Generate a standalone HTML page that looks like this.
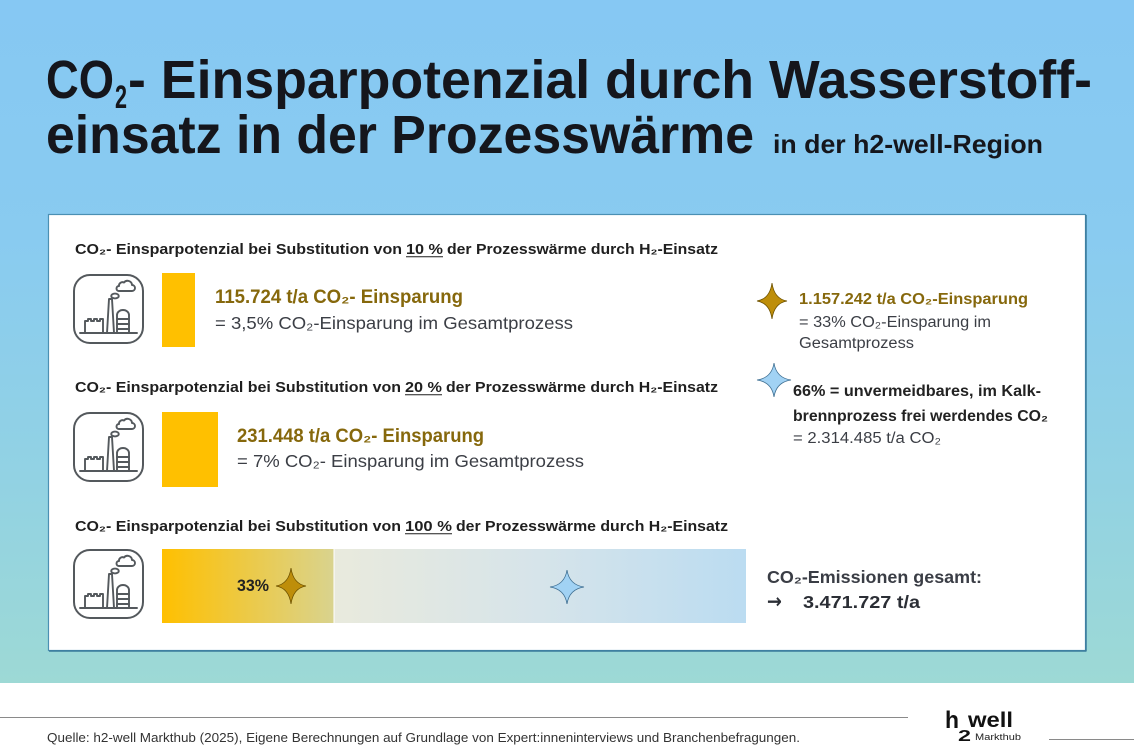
<!DOCTYPE html>
<html>
<head>
<meta charset="utf-8">
<style>
html,body{margin:0;padding:0;width:1134px;height:756px;overflow:hidden;background:#ffffff;}
svg{display:block;}
</style>
</head>
<body>
<svg width="1134" height="756" viewBox="0 0 1134 756" xmlns="http://www.w3.org/2000/svg" font-family="'Liberation Sans', Arial, 'DejaVu Sans', sans-serif">
  <defs>
    <linearGradient id="bg" x1="0" y1="0" x2="0" y2="1">
      <stop offset="0" stop-color="#86C8F3"/>
      <stop offset="0.35" stop-color="#89CBF0"/>
      <stop offset="0.7" stop-color="#92D2E3"/>
      <stop offset="1" stop-color="#9DD9D5"/>
    </linearGradient>
    <linearGradient id="gold" x1="0" y1="0" x2="1" y2="0">
      <stop offset="0" stop-color="#FFC000"/>
      <stop offset="1" stop-color="#D9D38E"/>
    </linearGradient>
    <linearGradient id="blue" x1="0" y1="0" x2="1" y2="0">
      <stop offset="0" stop-color="#E9EADD"/>
      <stop offset="0.5" stop-color="#D6E4EA"/>
      <stop offset="1" stop-color="#BBDCF1"/>
    </linearGradient>
    <g id="icon" fill="none" stroke="#54595d" stroke-width="1.9" stroke-linejoin="round" stroke-linecap="round">
      <rect x="1" y="1" width="69" height="68" rx="16" ry="16" stroke-width="2"/>
      <path d="M7,59 H64"/>
      <path d="M12,59 V47 h3 v-2 h3 v2 h3 v-2 h3 v2 h3 v-2 h3 v2 V59"/>
      <path d="M34,59 L36,25 H39 L41,59"/>
      <ellipse cx="42" cy="22" rx="3.8" ry="2.4"/>
      <path d="M46,17 H59 A3,3 0 0 0 59,11 A4.5,4.5 0 0 0 51,8.5 A3.5,3.5 0 0 0 46,12 A2.5,2.5 0 0 0 46,17 Z"/>
      <path d="M44,59 V41 A6,5 0 0 1 56,41 V59"/>
      <path d="M44,45 H56 M44,50 H56 M44,55 H56"/>
    </g>
    <path id="gstar" d="M0,-18 Q2.2,-2.2 15,0 Q2.2,2.2 0,18 Q-2.2,2.2 -15,0 Q-2.2,-2.2 0,-18Z" fill="#BE8E0A" stroke="#6e5200" stroke-width="0.8"/>
    <path id="bstar" d="M0,-17 Q2.2,-2.2 17,0 Q2.2,2.2 0,17 Q-2.2,2.2 -17,0 Q-2.2,-2.2 0,-17Z" fill="#A1D2F4" stroke="#3f6f92" stroke-width="0.8"/>
  </defs>

  <!-- background -->
  <rect x="0" y="0" width="1134" height="683" fill="url(#bg)"/>
  <rect x="0" y="683" width="1134" height="73" fill="#ffffff"/>

  <!-- title -->
  <g font-weight="bold" fill="#15161c">
    <text x="46" y="98" font-size="54" textLength="68" lengthAdjust="spacingAndGlyphs">CO</text>
    <text x="115" y="108" font-size="32" textLength="12" lengthAdjust="spacingAndGlyphs">2</text>
    <text x="128" y="98" font-size="54" textLength="964" lengthAdjust="spacingAndGlyphs">- Einsparpotenzial durch Wasserstoff-</text>
    <text x="46" y="153" font-size="54" textLength="708" lengthAdjust="spacingAndGlyphs">einsatz in der Prozesswärme</text>
    <text x="773" y="153" font-size="26" textLength="270" lengthAdjust="spacingAndGlyphs">in der h2-well-Region</text>
  </g>

  <!-- panel -->
  <rect x="48.5" y="214.5" width="1037" height="436" fill="#ffffff" stroke="#4b90b3" stroke-width="1.2"/>
  <line x1="1086" y1="215" x2="1086" y2="651" stroke="#3a7a9c" stroke-width="1.5"/>
  <line x1="49" y1="651" x2="1086.5" y2="651" stroke="#3a7a9c" stroke-width="1.5"/>

  <!-- Section 1 -->
  <g font-size="14.5" font-weight="bold" fill="#1f1f1f">
    <text x="75" y="254" textLength="327" lengthAdjust="spacingAndGlyphs">CO₂- Einsparpotenzial bei Substitution von</text>
    <text x="406" y="254" textLength="37" lengthAdjust="spacingAndGlyphs">10 %</text>
    <text x="447" y="254" textLength="271" lengthAdjust="spacingAndGlyphs">der Prozesswärme durch H₂-Einsatz</text>
  </g>
  <line x1="406" y1="256.8" x2="443" y2="256.8" stroke="#1f1f1f" stroke-width="1"/>
  <use href="#icon" x="73" y="274"/>
  <rect x="162" y="273" width="33" height="74" fill="#FFC000"/>
  <text x="215" y="303" font-size="19" font-weight="bold" fill="#86680c" textLength="248" lengthAdjust="spacingAndGlyphs">115.724 t/a CO₂- Einsparung</text>
  <text x="215" y="329" font-size="17.5" fill="#3b3e45" textLength="358" lengthAdjust="spacingAndGlyphs">= 3,5% CO₂-Einsparung im Gesamtprozess</text>

  <!-- Section 2 -->
  <g font-size="14.5" font-weight="bold" fill="#1f1f1f">
    <text x="75" y="392" textLength="326" lengthAdjust="spacingAndGlyphs">CO₂- Einsparpotenzial bei Substitution von</text>
    <text x="405" y="392" textLength="37" lengthAdjust="spacingAndGlyphs">20 %</text>
    <text x="446" y="392" textLength="272" lengthAdjust="spacingAndGlyphs">der Prozesswärme durch H₂-Einsatz</text>
  </g>
  <line x1="405" y1="394.8" x2="442" y2="394.8" stroke="#1f1f1f" stroke-width="1"/>
  <use href="#icon" x="73" y="412"/>
  <rect x="162" y="412" width="56" height="75" fill="#FFC000"/>
  <text x="237" y="442" font-size="19" font-weight="bold" fill="#86680c" textLength="247" lengthAdjust="spacingAndGlyphs">231.448 t/a CO₂- Einsparung</text>
  <text x="237" y="467" font-size="17.5" fill="#3b3e45" textLength="347" lengthAdjust="spacingAndGlyphs">= 7% CO₂- Einsparung im Gesamtprozess</text>

  <!-- Section 3 -->
  <g font-size="14.5" font-weight="bold" fill="#1f1f1f">
    <text x="75" y="531" textLength="326" lengthAdjust="spacingAndGlyphs">CO₂- Einsparpotenzial bei Substitution von</text>
    <text x="405" y="531" textLength="47" lengthAdjust="spacingAndGlyphs">100 %</text>
    <text x="456" y="531" textLength="272" lengthAdjust="spacingAndGlyphs">der Prozesswärme durch H₂-Einsatz</text>
  </g>
  <line x1="405" y1="533.8" x2="452" y2="533.8" stroke="#1f1f1f" stroke-width="1"/>
  <use href="#icon" x="73" y="549"/>
  <rect x="162" y="549" width="171.5" height="74" fill="url(#gold)"/>
  <rect x="334.5" y="549" width="411.5" height="74" fill="url(#blue)"/>
  <line x1="334" y1="549" x2="334" y2="623" stroke="#ffffff" stroke-width="1"/>
  <text x="237" y="591" font-size="16.5" font-weight="bold" fill="#222222" textLength="32" lengthAdjust="spacingAndGlyphs">33%</text>
  <use href="#gstar" x="291" y="586"/>
  <use href="#bstar" x="567" y="587"/>

  <text x="767" y="583" font-size="17.5" font-weight="bold" fill="#3a3d45" textLength="215" lengthAdjust="spacingAndGlyphs">CO₂-Emissionen gesamt:</text>
  <text x="767" y="608" font-size="20" font-weight="bold" fill="#2b2e35" font-family="'DejaVu Sans', sans-serif" textLength="15" lengthAdjust="spacingAndGlyphs">→</text>
  <text x="803" y="608" font-size="17.5" font-weight="bold" fill="#2b2e35" textLength="117" lengthAdjust="spacingAndGlyphs">3.471.727 t/a</text>

  <!-- Right column -->
  <use href="#gstar" x="772" y="301"/>
  <text x="799" y="304" font-size="15.5" font-weight="bold" fill="#86680c" textLength="229" lengthAdjust="spacingAndGlyphs">1.157.242 t/a CO₂-Einsparung</text>
  <text x="799" y="327" font-size="15.5" fill="#3b3e45" textLength="192" lengthAdjust="spacingAndGlyphs">= 33% CO₂-Einsparung im</text>
  <text x="799" y="348" font-size="15.5" fill="#3b3e45" textLength="115" lengthAdjust="spacingAndGlyphs">Gesamtprozess</text>

  <use href="#bstar" x="774" y="380"/>
  <text x="793" y="396" font-size="15.5" font-weight="bold" fill="#222222" textLength="248" lengthAdjust="spacingAndGlyphs">66% = unvermeidbares, im Kalk-</text>
  <text x="793" y="421" font-size="15.5" font-weight="bold" fill="#222222" textLength="255" lengthAdjust="spacingAndGlyphs">brennprozess frei werdendes CO₂</text>
  <text x="793" y="443" font-size="15.5" fill="#3b3e45" textLength="148" lengthAdjust="spacingAndGlyphs">= 2.314.485 t/a CO₂</text>

  <!-- Footer -->
  <line x1="0" y1="717.5" x2="908" y2="717.5" stroke="#8a8a8a" stroke-width="1"/>
  <line x1="1049" y1="739.5" x2="1134" y2="739.5" stroke="#8a8a8a" stroke-width="1"/>
  <text x="47" y="742" font-size="13" fill="#333333" textLength="753" lengthAdjust="spacingAndGlyphs">Quelle: h2-well Markthub (2025), Eigene Berechnungen auf Grundlage von Expert:inneninterviews und Branchenbefragungen.</text>

  <!-- Logo -->
  <text x="945" y="728" font-size="24" font-weight="bold" fill="#111111" textLength="14" lengthAdjust="spacingAndGlyphs">h</text>
  <text x="958" y="741" font-size="16" font-weight="bold" fill="#111111" textLength="13" lengthAdjust="spacingAndGlyphs">2</text>
  <text x="968" y="727" font-size="21" font-weight="bold" fill="#111111" textLength="45" lengthAdjust="spacingAndGlyphs">well</text>
  <text x="975" y="740" font-size="9" fill="#222222" textLength="46" lengthAdjust="spacingAndGlyphs">Markthub</text>
</svg>
</body>
</html>
